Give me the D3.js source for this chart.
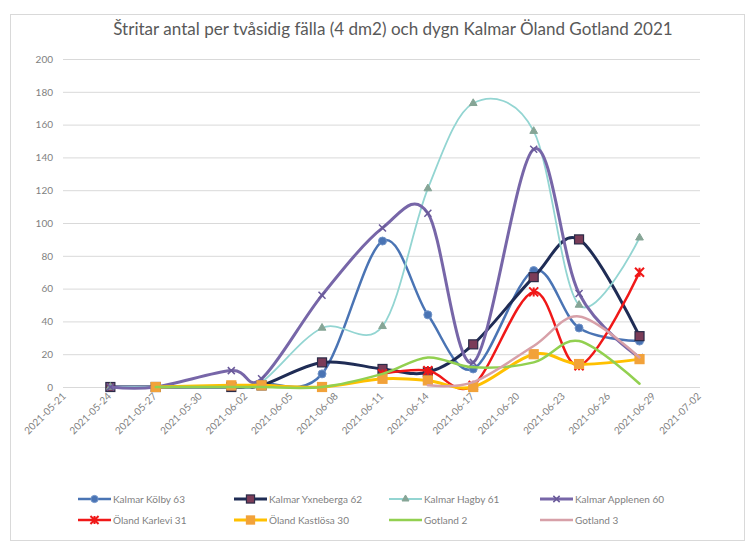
<!DOCTYPE html>
<html>
<head>
<meta charset="utf-8">
<script src="https://cdn.jsdelivr.net/npm/d3@7"></script>
<style>
  html, body { margin: 0; padding: 0; background: #fff; }
  svg { display: block; font-family: Lato, "Open Sans", sans-serif; }
</style>
</head>
<body>
<svg id="chart" width="750" height="544"></svg>
<script>
// ---- data ----
const titleText = "Štritar antal per tvåsidig fälla (4 dm2)  och dygn Kalmar Öland Gotland 2021";
const dates = ["2021-05-24","2021-05-27","2021-06-01","2021-06-03","2021-06-07","2021-06-11","2021-06-14","2021-06-17","2021-06-21","2021-06-24","2021-06-28"];
const seriesNames = ["Kalmar Kölby 63","Kalmar Yxneberga 62","Kalmar Hagby 61","Kalmar Applenen 60","Öland Karlevi 31","Öland Kastlösa 30","Gotland 2","Gotland 3"];
const kolby     = [0, 0, 0, 2, 8, 89, 44, 11, 71, 36, 28];
const yxneberga = [0, 0, 0, 1, 15, 11, 9, 26, 67, 90, 31];
const hagby     = [0, 0, 0, 3, 36, 37, 121, 173, 156, 50, 91];
const applenen  = [0, 0, 10, 5, 56, 97, 106, 15, 145, 57, 18];
const karlevi   = [null, null, null, null, null, 8, 10, 1, 58, 13, 70];
const kastlosa  = [null, 0, 1, 1, 0, 5, 4, 0, 20, 14, 17];
const gotland2  = [null, 0, 0, 0, 0, 8, 18, 12, 15, 28, 2];
const gotland3  = [null, null, null, null, null, null, 1, 3, 25, 43, 18];
const yTicks = [0, 20, 40, 60, 80, 100, 120, 140, 160, 180, 200];
const xTickLabels = ["2021-05-21","2021-05-24","2021-05-27","2021-05-30","2021-06-02","2021-06-05","2021-06-08","2021-06-11","2021-06-14","2021-06-17","2021-06-20","2021-06-23","2021-06-26","2021-06-29","2021-07-02"];

const seriesValues = [kolby, yxneberga, hagby, applenen, karlevi, kastlosa, gotland2, gotland3];

// ---- styles ----
const styles = [
  {line: "#4A74B4", width: 2.5, marker: "circle",   fill: "#4A74B4", stroke: "#6F93C8"},
  {line: "#1F2C55", width: 3,   marker: "square",   fill: "#7B3C58", stroke: "#2B2B48"},
  {line: "#93D5D2", width: 1.8, marker: "triangle", fill: "#86A596", stroke: "#86A596"},
  {line: "#7766A8", width: 3,   marker: "x",        fill: "none",    stroke: "#6A5A9A"},
  {line: "#F01818", width: 2.5, marker: "star",     fill: "none",    stroke: "#F01818"},
  {line: "#FFC000", width: 3,   marker: "square",   fill: "#F2A23A", stroke: "#F2A23A"},
  {line: "#92D050", width: 2.5, marker: "none"},
  {line: "#D7A0A8", width: 2.5, marker: "none"}
];

const parse = d3.timeParse("%Y-%m-%d");
const svg = d3.select("#chart");

// chart border
svg.append("rect").attr("x", 10.5).attr("y", 14.5).attr("width", 734).attr("height", 526)
  .attr("fill", "#fff").attr("stroke", "#D9D9D9").attr("stroke-width", 1);

const plotL = 63, plotR = 700, plotT = 59, plotB = 387;
const x = d3.scaleTime().domain([parse("2021-05-21"), parse("2021-07-02")]).range([65, 700]);
const y = d3.scaleLinear().domain([0, 200]).range([plotB, plotT]);

// gridlines
const yAxis = d3.axisLeft(y).tickValues(yTicks).tickSize(-(plotR - plotL)).tickPadding(10).tickFormat(d3.format("d"));
const gy = svg.append("g").attr("transform", `translate(${plotL},0)`).call(yAxis);
gy.select(".domain").remove();
gy.selectAll(".tick line").attr("stroke", "#D9D9D9").attr("stroke-width", 1);
gy.selectAll(".tick text").attr("fill", "#7F7F7F").style("font-size", "10px").style("font-family", "Lato, sans-serif");

// x axis
const xAxis = d3.axisBottom(x).tickValues(xTickLabels.map(parse)).tickSize(0).tickFormat(d3.timeFormat("%Y-%m-%d"));
const gx = svg.append("g").attr("transform", `translate(0,${plotB})`).call(xAxis);
gx.select(".domain").attr("stroke", "#D9D9D9").attr("d", `M${plotL},0.5H${plotR}`);
gx.selectAll(".tick text")
  .attr("fill", "#7F7F7F").style("font-size", "10px").style("font-family", "Lato, sans-serif")
  .attr("text-anchor", "end").attr("dy", "0.35em")
  .attr("transform", "translate(0,6) rotate(-45)").attr("y", 0).attr("x", -2);

// markers
function drawMarker(g, type, st, size) {
  const s = size || 1;
  if (type === "circle") {
    g.append("circle").attr("r", 4 * s).attr("fill", st.fill).attr("stroke", st.stroke).attr("stroke-width", 1);
  } else if (type === "square") {
    g.append("rect").attr("x", -4.5 * s).attr("y", -4.5 * s).attr("width", 9 * s).attr("height", 9 * s)
      .attr("fill", st.fill).attr("stroke", st.stroke).attr("stroke-width", 1.2);
  } else if (type === "triangle") {
    g.append("path").attr("d", d3.symbol(d3.symbolTriangle, 26 * s * s)()).attr("fill", st.fill).attr("stroke", st.stroke);
  } else if (type === "x") {
    const r = 3.5 * s;
    g.append("path").attr("d", `M${-r},${-r}L${r},${r}M${-r},${r}L${r},${-r}`).attr("stroke", st.stroke).attr("stroke-width", 1.5).attr("fill", "none");
  } else if (type === "star") {
    const r = 4.5 * s;
    g.append("path").attr("d", `M${-r},${-r}L${r},${r}M${-r},${r}L${r},${-r}M0,${-r}L0,${r}`).attr("stroke", st.stroke).attr("stroke-width", 2).attr("fill", "none");
  }
}

const line = d3.line().defined(d => d.v != null).x(d => x(d.date)).y(d => y(d.v)).curve(d3.curveCardinal.tension(0));

const plot = svg.append("g");
seriesValues.forEach((vals, i) => {
  const st = styles[i];
  const pts = dates.map((d, j) => ({date: parse(d), v: vals[j]})).filter(p => p.v != null);
  const g = plot.append("g").attr("class", "series");
  g.append("path").datum(pts).attr("d", line).attr("fill", "none").attr("stroke", st.line)
    .attr("stroke-width", st.width).attr("stroke-linejoin", "round").attr("stroke-linecap", "round");
  if (st.marker !== "none") {
    pts.forEach(p => {
      const mg = g.append("g").attr("transform", `translate(${x(p.date)},${y(p.v)})`);
      drawMarker(mg, st.marker, st);
    });
  }
});

// title
const title = svg.append("text").attr("x", 393).attr("y", 35).attr("text-anchor", "middle")
  .attr("fill", "#595959").style("font-size", "15px").style("font-family", "Lato, sans-serif").text(titleText);
const tw = title.node().getComputedTextLength();
title.style("font-size", (15 * 560 / tw).toFixed(2) + "px");

// legend
const legendCols = [78, 234, 389, 540];
const legendRows = [499, 520];
const legend = svg.append("g");
seriesNames.forEach((name, i) => {
  const st = styles[i];
  const lx = legendCols[i % 4], ly = legendRows[Math.floor(i / 4)];
  const g = legend.append("g").attr("transform", `translate(${lx},${ly})`);
  g.append("line").attr("x1", 0).attr("x2", 33).attr("y1", 0).attr("y2", 0)
    .attr("stroke", st.line).attr("stroke-width", st.width);
  if (st.marker !== "none") {
    const mg = g.append("g").attr("transform", "translate(16.5,0)");
    drawMarker(mg, st.marker, st, 0.9);
  }
  g.append("text").attr("x", 35).attr("y", 0).attr("dy", "0.35em").attr("fill", "#7F7F7F")
    .style("font-size", "10px").style("font-family", "Lato, sans-serif").text(name);
});
</script>
</body>
</html>
